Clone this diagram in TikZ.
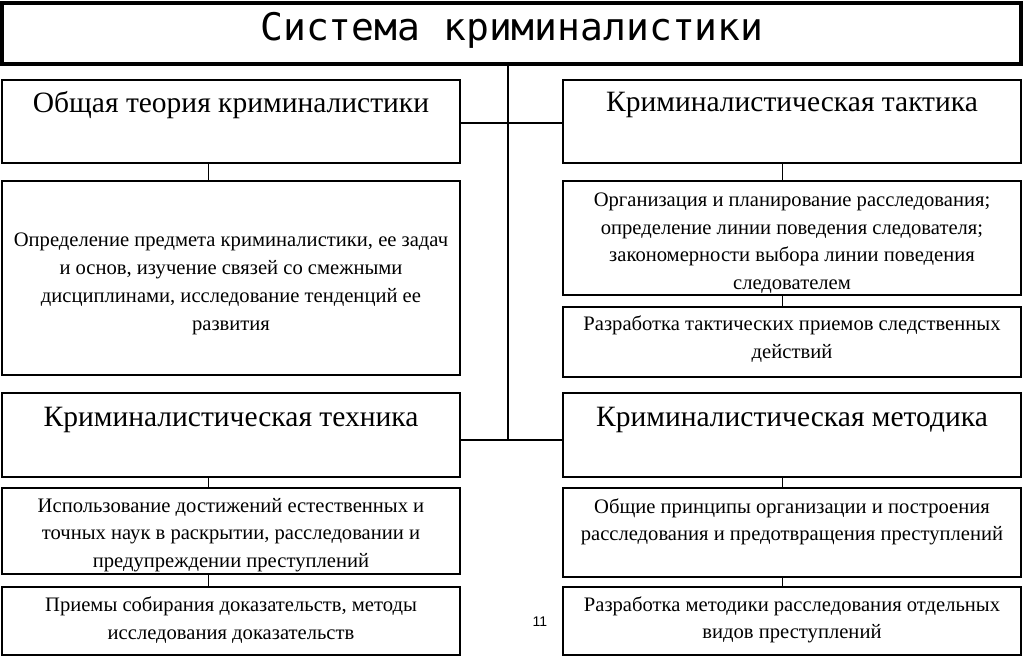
\documentclass[tikz,border=0pt]{standalone}
\usepackage{fontspec}
\setmainfont{Liberation Serif}
\newfontfamily\titlefont{DejaVu Sans Mono}
\newfontfamily\numfont{Liberation Sans}
\begin{document}
\begin{tikzpicture}[x=1pt,y=-1pt,
  box/.style={draw,line width=2.6pt,inner sep=0pt,outer sep=0pt,minimum width=458pt},
  tbox/.style={draw,line width=4pt,inner sep=0pt,outer sep=0pt},
  head/.style={font=\fontsize{29.5}{32}\selectfont,inner sep=0pt},
  body/.style={font=\fontsize{20.6}{27.5}\selectfont,align=center,inner sep=0pt},
  link/.style={line width=2.4pt},
  thinlink/.style={line width=1pt}]
\useasboundingbox (0,0) rectangle (1024,659);
% boxes
\node[tbox,minimum width=1019pt,minimum height=61pt] (title) at (511.5,33.5) {};
\node[box,minimum height=83pt] (h1) at (231,121.5) {};
\node[box,minimum height=83pt] (h2) at (792,121.5) {};
\node[box,minimum height=194pt] (d1) at (231,278) {};
\node[box,minimum height=114pt] (r1) at (792,238) {};
\node[box,minimum height=70pt] (r2) at (792,342) {};
\node[box,minimum height=84pt] (h3) at (231,435) {};
\node[box,minimum height=84pt] (h4) at (792,435) {};
\node[box,minimum height=86pt] (t1) at (231,531) {};
\node[box,minimum height=68pt] (t2) at (231,621) {};
\node[box,minimum height=89pt] (m1) at (792,532.5) {};
\node[box,minimum height=68pt] (m2) at (792,621) {};
% texts
\node[inner sep=0pt,font=\titlefont\fontsize{38}{40}\selectfont] (tt) at (512,30) {Система криминалистики};
\node[head] (h1t) at (231,105) {Общая теория криминалистики};
\node[head] (h2t) at (792,105) {Криминалистическая тактика};
\node[head] (h3t) at (231,420) {Криминалистическая техника};
\node[head] (h4t) at (792,420) {Криминалистическая методика};
\node[body,font=\fontsize{20.6}{28}\selectfont] (d1t) at (231,284) {Определение предмета криминалистики, ее задач\\и основ, изучение связей со смежными\\дисциплинами, исследование тенденций ее\\развития};
\node[body] (r1t) at (792,243) {Организация и планирование расследования;\\определение линии поведения следователя;\\закономерности выбора линии поведения\\следователем};
\node[body] (r2t) at (792,339) {Разработка тактических приемов следственных\\действий};
\node[body] (t1t) at (231,535) {Использование достижений естественных и\\точных наук в раскрытии, расследовании и\\предупреждении преступлений};
\node[body] (t2t) at (231,620) {Приемы собирания доказательств, методы\\исследования доказательств};
\node[body] (m1t) at (792,522) {Общие принципы организации и построения\\расследования и предотвращения преступлений};
\node[body] (m2t) at (792,620) {Разработка методики расследования отдельных\\видов преступлений};
\node[inner sep=0pt,font=\numfont\fontsize{14}{16}\selectfont] (pg) at (540,622) {11};
% connectors
\coordinate (j1) at (508,123);
\coordinate (j2) at (508,440);
\coordinate (xl) at (208,0);
\coordinate (xr) at (782,0);
\draw[link] (title.south -| j2) -- (j2);
\draw[link] (h1.east |- j1) -- (h2.west |- j1);
\draw[link] (h3.east |- j2) -- (h4.west |- j2);
\draw[thinlink] (h1.south -| xl) -- (d1.north -| xl);
\draw[thinlink] (h3.south -| xl) -- (t1.north -| xl);
\draw[thinlink] (t1.south -| xl) -- (t2.north -| xl);
\draw[thinlink] (h2.south -| xr) -- (r1.north -| xr);
\draw[thinlink] (r1.south -| xr) -- (r2.north -| xr);
\draw[thinlink] (h4.south -| xr) -- (m1.north -| xr);
\draw[thinlink] (m1.south -| xr) -- (m2.north -| xr);
\end{tikzpicture}
\end{document}
